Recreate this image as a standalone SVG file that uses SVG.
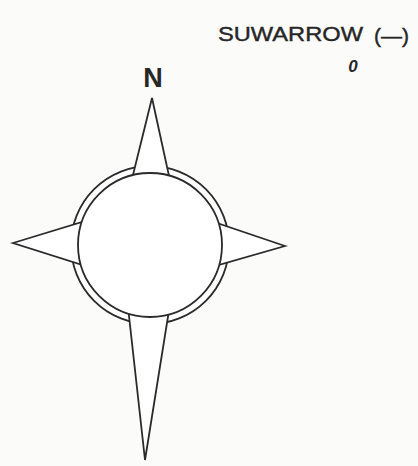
<svg xmlns="http://www.w3.org/2000/svg" width="418" height="466" viewBox="0 0 418 466">
<style>
.ln{fill:#fff;stroke:#2a2a2a;stroke-width:1.8;stroke-linejoin:miter}
.t{font-family:"Liberation Sans",Arial,sans-serif;fill:#262626}
.w{stroke:#262626;stroke-width:0.4}
</style>
<rect width="418" height="466" fill="#fbfbfa"/>
<g id="compass">
<circle class="ln" cx="150" cy="245" r="79"/>
<polygon class="ln" points="152,98 130.5,185 171,185"/>
<polygon class="ln" points="13,243 92,219 92,268"/>
<polygon class="ln" points="285,246 208,220 208,268"/>
<polygon class="ln" points="145,460 127,298 171,298"/>
<circle class="ln" cx="150" cy="245" r="72"/>
</g>
<g id="labels">
<text class="t" x="153" y="87" font-size="27" font-weight="bold" text-anchor="middle">N</text>
<text class="t w" x="218" y="41" font-size="20" textLength="145" lengthAdjust="spacingAndGlyphs">SUWARROW</text>
<text class="t w" x="374" y="43" font-size="21">(—)</text>
<text class="t" x="353" y="72" font-size="17" font-weight="bold" font-style="italic" text-anchor="middle">0</text>
</g>
</svg>
